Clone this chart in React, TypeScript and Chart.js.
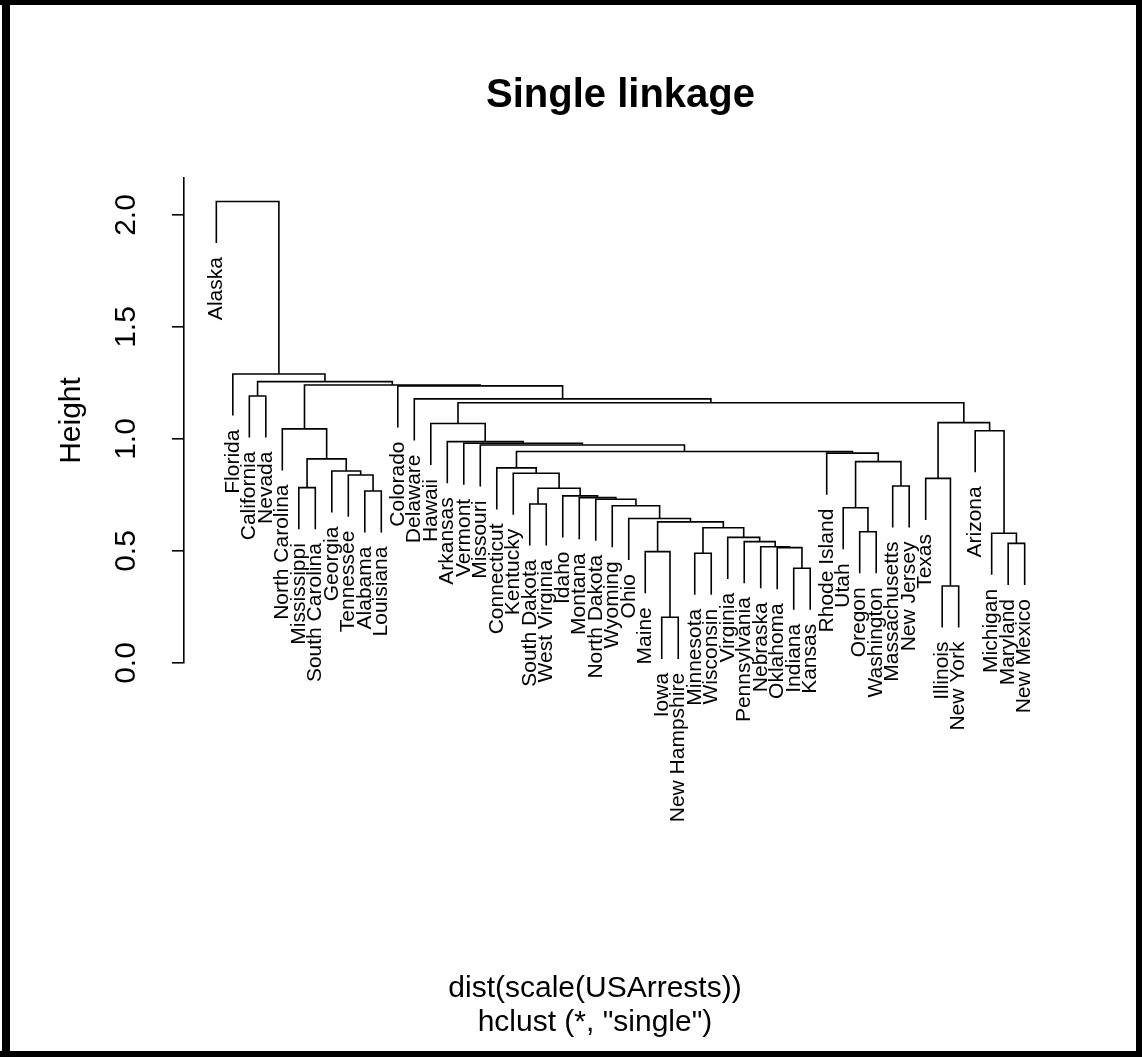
import React, { useEffect, useRef } from "react";
import { Chart, registerables } from "chart.js";

Chart.register(...registerables);

// Leaf order as drawn (left to right)
const leafLabels = [
  "Alaska", "Florida", "California", "Nevada", "North Carolina", "Mississippi",
  "South Carolina", "Georgia", "Tennessee", "Alabama", "Louisiana", "Colorado",
  "Delaware", "Hawaii", "Arkansas", "Vermont", "Missouri", "Connecticut",
  "Kentucky", "South Dakota", "West Virginia", "Idaho", "Montana", "North Dakota",
  "Wyoming", "Ohio", "Maine", "Iowa", "New Hampshire", "Minnesota", "Wisconsin",
  "Virginia", "Pennsylvania", "Nebraska", "Oklahoma", "Indiana", "Kansas",
  "Rhode Island", "Utah", "Oregon", "Washington", "Massachusetts", "New Jersey",
  "Texas", "Illinois", "New York", "Arizona", "Michigan", "Maryland", "New Mexico",
];

// Merge table (R style): negative = leaf number (1-based in leafLabels), positive = earlier merge
const mergeLeft = [
  -28, -45, -36, -30, -27, -49, -35, -34, -33, -32,
  -48, -40, 4, 5, -26, -39, -25, -20, -24, -23,
  -22, -10, 18, -6, -42, -44, -9, -19, -8, -18,
  16, 24, -38, 30, -17, -16, -15, -47, -5, -14,
  26, 40, -13, -3, -12, 39, 44, -2, -1,
];
const mergeRight = [
  -29, -46, -37, -31, 1, -50, 3, 7, 8, 9,
  6, -41, 10, 13, 14, 12, 15, -21, 17, 19,
  20, -11, 21, -7, -43, 2, 22, 23, 27, 28,
  25, 29, 31, 33, 34, 35, 36, 11, 32, 37,
  38, 41, 42, -4, 43, 45, 46, 47, 48,
];
const mergeHeights = [
  0.204, 0.344, 0.423, 0.49, 0.497, 0.534, 0.515, 0.519, 0.542, 0.561,
  0.579, 0.586, 0.604, 0.63, 0.645, 0.693, 0.702, 0.71, 0.731, 0.738,
  0.746, 0.768, 0.78, 0.783, 0.79, 0.824, 0.839, 0.847, 0.857, 0.871,
  0.899, 0.911, 0.937, 0.944, 0.973, 0.981, 0.988, 1.037, 1.045, 1.069,
  1.073, 1.162, 1.179, 1.192, 1.237, 1.241, 1.256, 1.29, 2.06,
];

const yTickValues = [0, 0.5, 1.0, 1.5, 2.0];
const yTickLabels = ["0.0", "0.5", "1.0", "1.5", "2.0"];
const titleText = "Single linkage";
const yAxisTitle = "Height";
const subTitleLines = ["dist(scale(USArrests))", 'hclust (*, "single")'];

const FONT = '"Liberation Sans", Arial, Helvetica, sans-serif';
const W = 1142;
const H = 1057;

function buildSegments() {
  const n = leafLabels.length;
  const hMax = Math.max(...mergeHeights);
  const hMin = Math.min(...mergeHeights);
  const hang = 0.1 * (hMax - hMin);
  const nodeX: number[] = [];
  const leafBottom: number[] = new Array(n).fill(0);
  const childPos = (c: number, parentH: number) => {
    if (c < 0) {
      const idx = -c - 1;
      leafBottom[idx] = parentH - hang;
      return { x: idx + 1, y: parentH - hang };
    }
    return { x: nodeX[c - 1], y: mergeHeights[c - 1] };
  };
  const segs: { x: number; y: number }[][] = [];
  for (let i = 0; i < mergeHeights.length; i++) {
    const h = mergeHeights[i];
    const a = childPos(mergeLeft[i], h);
    const b = childPos(mergeRight[i], h);
    nodeX[i] = (a.x + b.x) / 2;
    segs.push([
      { x: a.x, y: a.y },
      { x: a.x, y: h },
      { x: b.x, y: h },
      { x: b.x, y: b.y },
    ]);
  }
  return { segs, leafBottom };
}

export default function App() {
  const ref = useRef<HTMLCanvasElement | null>(null);

  useEffect(() => {
    document.body.style.margin = "0";
    const canvas = ref.current;
    if (!canvas) return;
    const { segs, leafBottom } = buildSegments();

    const decor = {
      id: "decor",
      beforeDraw(chart: any) {
        const ctx = chart.ctx;
        ctx.save();
        ctx.fillStyle = "#ffffff";
        ctx.fillRect(0, 0, W, H);
        ctx.restore();
      },
      afterDraw(chart: any) {
        const ctx = chart.ctx;
        const ys = chart.scales.y;
        const xs = chart.scales.x;
        const area = chart.chartArea;
        const cx = (area.left + area.right) / 2;
        ctx.save();
        ctx.fillStyle = "#000";
        // leaf labels
        ctx.font = `21px ${FONT}`;
        ctx.textAlign = "right";
        ctx.textBaseline = "middle";
        leafLabels.forEach((lab, i) => {
          const px = xs.getPixelForValue(i + 1);
          const py = ys.getPixelForValue(leafBottom[i]) + 14;
          ctx.save();
          ctx.translate(px, py);
          ctx.rotate(-Math.PI / 2);
          ctx.fillText(lab, 0, 0);
          ctx.restore();
        });
        // y tick labels
        ctx.font = `30px ${FONT}`;
        ctx.textAlign = "center";
        ctx.textBaseline = "alphabetic";
        yTickValues.forEach((v, i) => {
          const py = ys.getPixelForValue(v);
          ctx.save();
          ctx.translate(135, py);
          ctx.rotate(-Math.PI / 2);
          ctx.fillText(yTickLabels[i], 0, 0);
          ctx.restore();
        });
        // y axis title
        ctx.save();
        ctx.translate(80, (area.top + area.bottom) / 2);
        ctx.rotate(-Math.PI / 2);
        ctx.fillText(yAxisTitle, 0, 0);
        ctx.restore();
        // title
        ctx.font = `bold 40px ${FONT}`;
        ctx.fillText(titleText, cx, 107);
        // sub lines
        ctx.font = `30px ${FONT}`;
        ctx.fillText(subTitleLines[0], 595, 997);
        ctx.fillText(subTitleLines[1], 595, 1031);
        // frame
        ctx.fillRect(0, 0, W, 5);
        ctx.fillRect(2, 0, 8, H);
        ctx.fillRect(0, H - 6, W, 6);
        ctx.fillRect(W - 6, 0, 6, H);
        ctx.restore();
      },
    };

    const chart = new Chart(canvas, {
      type: "line",
      data: {
        datasets: segs.map((s) => ({
          data: s,
          borderColor: "#000",
          borderWidth: 1.6,
          pointRadius: 0,
          tension: 0,
          fill: false,
        })),
      },
      options: {
        responsive: false,
        animation: false,
        devicePixelRatio: 1,
        layout: { padding: { left: 184, top: 178, right: 85, bottom: 394 } },
        plugins: { legend: { display: false }, tooltip: { enabled: false }, title: { display: false } },
        events: [],
        scales: {
          x: { type: "linear", min: -0.96, max: 51.96, display: false },
          y: {
            type: "linear",
            min: 0,
            max: 2.165,
            afterFit: (s: any) => { s.width = 0; },
            border: { display: true, color: "#000", width: 1.6 },
            grid: { drawOnChartArea: false, drawTicks: true, tickLength: 12, color: "#000", lineWidth: 1.6 },
            ticks: { display: false, stepSize: 0.5, includeBounds: false },
          },
        },
      } as any,
      plugins: [decor],
    });
    return () => chart.destroy();
  }, []);

  return (
    <div style={{ width: W, height: H }}>
      <canvas ref={ref} width={W} height={H} style={{ display: "block", width: W, height: H }} />
    </div>
  );
}
